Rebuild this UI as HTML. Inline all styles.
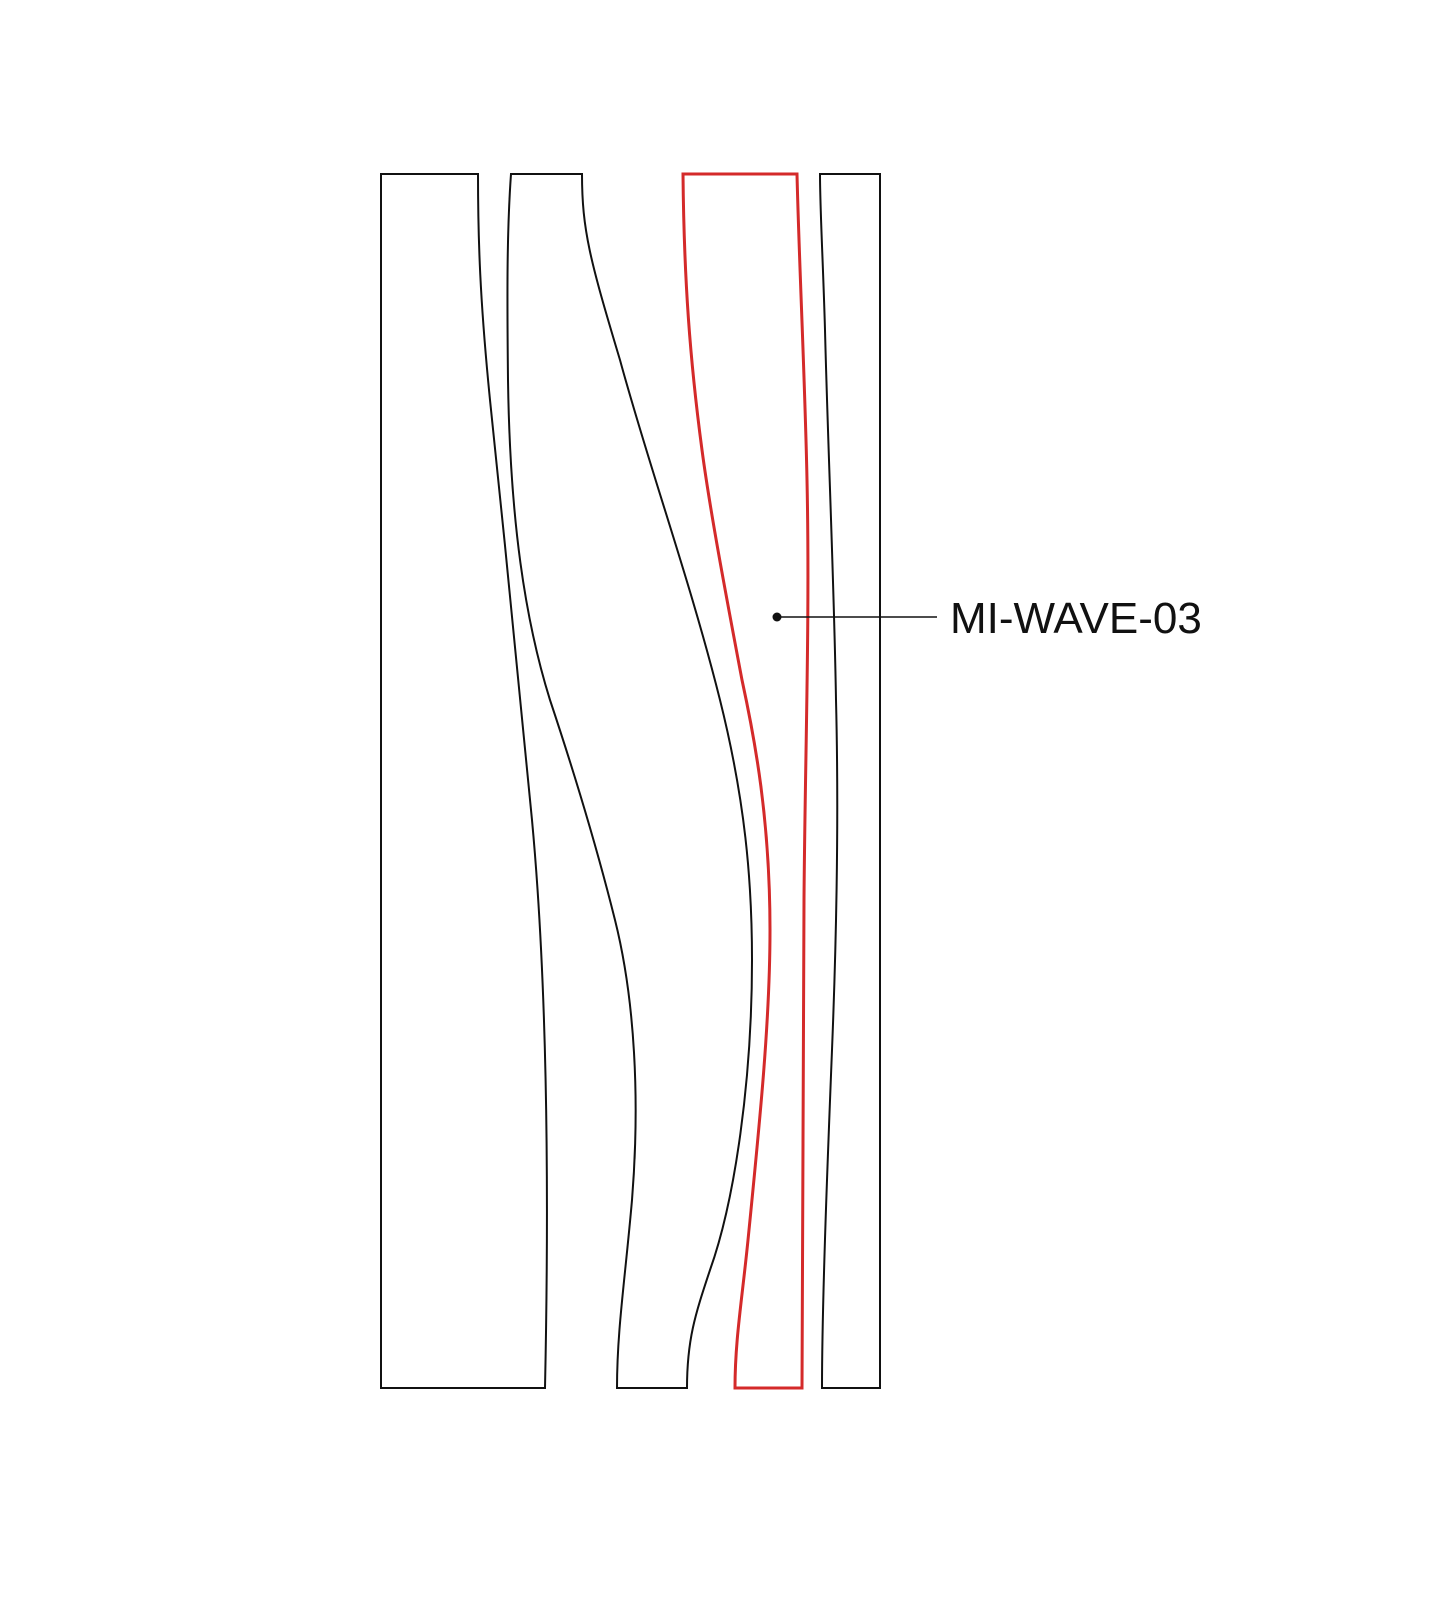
<!DOCTYPE html>
<html><head><meta charset="utf-8"><style>
html,body{margin:0;padding:0;background:#fff;}
svg{display:block;}
</style></head><body>
<svg width="1437" height="1600" viewBox="0 0 1437 1600" xmlns="http://www.w3.org/2000/svg">
<rect width="1437" height="1600" fill="#fff"/>
<g fill="none" stroke="#111" stroke-width="2">
<path d="M381,174 L478,174 C478,240 480,300 490,400 C505,540 520,700 532,820 C545,960 550,1150 545,1388 L381,1388 Z"/>
<path d="M511,174 L582,174 C582,230 590,260 620,360 C650,470 690,580 720,700 C745,800 752,880 752,960 C752,1080 735,1200 710,1270 C695,1315 687,1340 687,1388 L617,1388 C617,1330 625,1280 632,1200 C640,1100 635,1000 615,920 C595,840 570,760 550,700 C525,620 510,520 508,380 C507,290 507,230 511,174 Z"/>
<path d="M820,174 L880,174 L880,1388 L822,1388 C822,1300 828,1150 832,1050 C838,900 838,780 836,700 C834,580 828,450 825,330 C823,260 820,210 820,174 Z"/>
</g>
<path d="M683,174 L797,174 C799,260 805,380 807,480 C810,620 805,760 804,900 C803,1050 802,1200 802,1388 L735,1388 C735,1340 742,1300 748,1240 C760,1120 770,1020 770,930 C770,820 755,740 742,680 C725,590 710,510 702,450 C690,360 684,280 683,174 Z" fill="none" stroke="#d42a2a" stroke-width="3"/>
<circle cx="777" cy="617" r="4.5" fill="#111"/>
<line x1="777" y1="617" x2="937" y2="617" stroke="#111" stroke-width="1.5"/>
<text x="950" y="633" font-family="Liberation Sans, sans-serif" font-size="44" fill="#111">MI-WAVE-03</text>
</svg>
</body></html>
